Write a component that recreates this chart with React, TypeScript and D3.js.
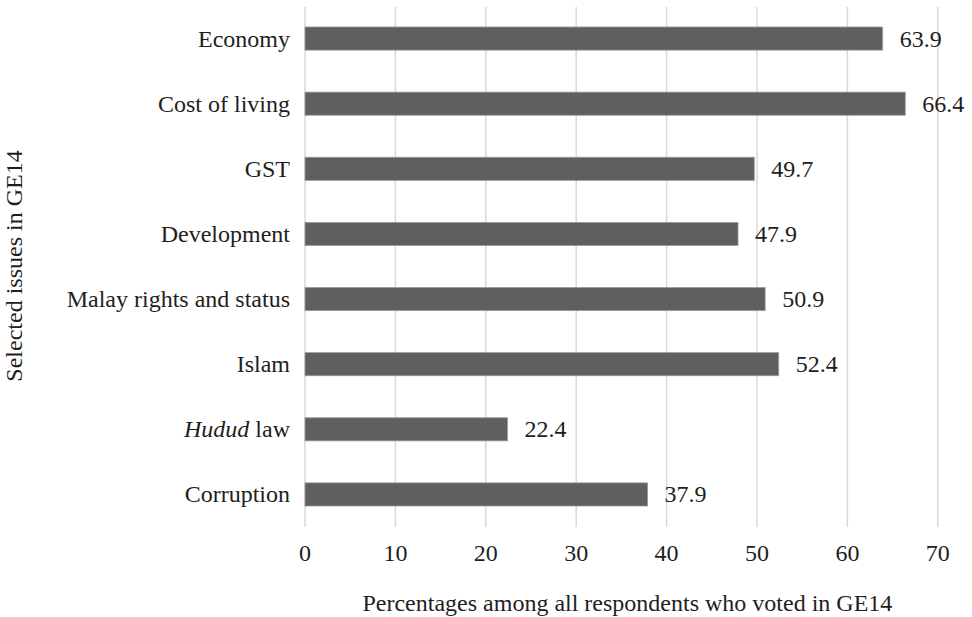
import React from "react";
import * as d3 from "d3";

const categories = ["Economy", "Cost of living", "GST", "Development", "Malay rights and status", "Islam", "Hudud law", "Corruption"];
const values = [63.9, 66.4, 49.7, 47.9, 50.9, 52.4, 22.4, 37.9];
const xTicks = [0, 10, 20, 30, 40, 50, 60, 70];
const xTitle = "Percentages among all respondents who voted in GE14";
const yTitle = "Selected issues in GE14";

export default function App() {
  const W = 972, H = 617;
  const left = 305, right = 937.8, top = 7, bottom = 527;
  const x = d3.scaleLinear().domain([0, 70]).range([left, right]);
  const y = d3.scaleBand<string>().domain(categories).range([top - 1, bottom]).paddingInner(0.645).paddingOuter(0.3225);
  const font = "'Liberation Serif', 'Times New Roman', serif";
  const fs = 24;
  return (
    <svg width={W} height={H} style={{ position: "absolute", left: 0, top: 0, background: "#fff" }} fontFamily={font}>
      {xTicks.map((t) => (
        <line key={"g" + t} x1={x(t)} x2={x(t)} y1={top} y2={bottom} stroke="#d9d9d9" strokeWidth={1.5} />
      ))}
      {categories.map((c, i) => (
        <g key={c}>
          <rect x={x(0)} y={y(c)!} width={x(values[i]) - x(0)} height={y.bandwidth()} fill="#5f5f5f" stroke="#9a9a9a" strokeWidth={0.8} />
          <text x={x(values[i]) + 17} y={y(c)! + y.bandwidth() / 2 + 8} fontSize={fs} fill="#1e1e1e">{values[i].toFixed(1)}</text>
          <text x={left - 15} y={y(c)! + y.bandwidth() / 2 + 8} fontSize={fs} fill="#1e1e1e" textAnchor="end">
            {c === "Hudud law" ? (<><tspan fontStyle="italic">Hudud</tspan> law</>) : c}
          </text>
        </g>
      ))}
      {xTicks.map((t) => (
        <text key={"t" + t} x={x(t)} y={561} fontSize={fs} fill="#1e1e1e" textAnchor="middle">{t}</text>
      ))}
      <text x={(left + right) / 2 + 6} y={611} fontSize={fs} fill="#1e1e1e" textAnchor="middle">{xTitle}</text>
      <text transform={`translate(22, 266) rotate(-90)`} fontSize={fs} fill="#1e1e1e" textAnchor="middle">{yTitle}</text>
    </svg>
  );
}
